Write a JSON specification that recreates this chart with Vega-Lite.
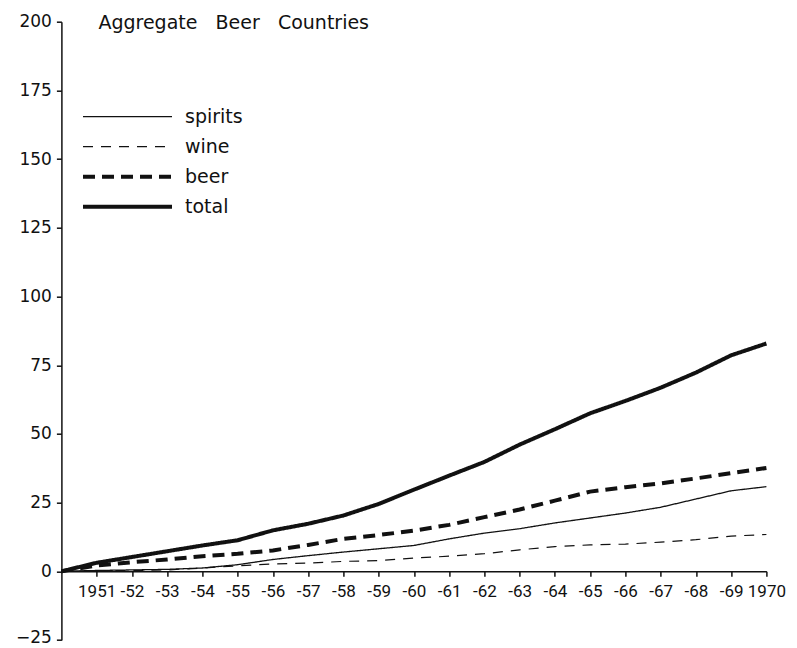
{
  "$schema": "https://vega.github.io/schema/vega-lite/v6.json",
  "width": 705,
  "height": 618.3,
  "autosize": {"type": "none"},
  "padding": {"left": 61.4, "top": 21.7, "right": 30.6, "bottom": 8},
  "background": "white",
  "title": {
    "text": "Aggregate\u00a0\u00a0\u00a0Beer\u00a0\u00a0\u00a0Countries",
    "anchor": "start",
    "frame": "group",
    "dx": 37,
    "offset": 0,
    "dy": 35,
    "baseline": "alphabetic",
    "font": "DejaVu Sans",
    "fontSize": 19,
    "fontWeight": "normal",
    "color": "#111"
  },
  "config": {
    "view": {"stroke": null}
  },
  "data": {
    "values": [
      {"year": 1950, "spirits": 0.0, "wine": 0.0, "beer": 0.0, "total": 0.0},
      {"year": 1951, "spirits": 0.3, "wine": 0.2, "beer": 2.1, "total": 3.1},
      {"year": 1952, "spirits": 0.5, "wine": 0.3, "beer": 3.3, "total": 5.2},
      {"year": 1953, "spirits": 0.7, "wine": 0.5, "beer": 4.3, "total": 7.3},
      {"year": 1954, "spirits": 1.2, "wine": 1.2, "beer": 5.5, "total": 9.4},
      {"year": 1955, "spirits": 2.4, "wine": 2.0, "beer": 6.4, "total": 11.3},
      {"year": 1956, "spirits": 4.3, "wine": 2.7, "beer": 7.6, "total": 14.9},
      {"year": 1957, "spirits": 5.7, "wine": 3.0, "beer": 9.6, "total": 17.3},
      {"year": 1958, "spirits": 7.0, "wine": 3.6, "beer": 11.8, "total": 20.3},
      {"year": 1959, "spirits": 8.2, "wine": 3.9, "beer": 13.2, "total": 24.5},
      {"year": 1960, "spirits": 9.4, "wine": 4.8, "beer": 14.8, "total": 29.7},
      {"year": 1961, "spirits": 11.8, "wine": 5.5, "beer": 16.9, "total": 34.8},
      {"year": 1962, "spirits": 13.9, "wine": 6.4, "beer": 19.7, "total": 39.8},
      {"year": 1963, "spirits": 15.5, "wine": 7.8, "beer": 22.5, "total": 46.1},
      {"year": 1964, "spirits": 17.6, "wine": 9.0, "beer": 25.7, "total": 51.7},
      {"year": 1965, "spirits": 19.4, "wine": 9.6, "beer": 29.0, "total": 57.5},
      {"year": 1966, "spirits": 21.2, "wine": 9.9, "beer": 30.6, "total": 62.0},
      {"year": 1967, "spirits": 23.3, "wine": 10.6, "beer": 32.0, "total": 66.8},
      {"year": 1968, "spirits": 26.3, "wine": 11.5, "beer": 33.8, "total": 72.3},
      {"year": 1969, "spirits": 29.3, "wine": 12.8, "beer": 35.7, "total": 78.6},
      {"year": 1970, "spirits": 30.8, "wine": 13.4, "beer": 37.6, "total": 82.9}
    ]
  },
  "transform": [
    {"fold": ["spirits", "wine", "beer", "total"], "as": ["series", "value"]}
  ],
  "mark": {"type": "line", "color": "#111", "strokeCap": "butt"},
  "encoding": {
    "x": {
      "field": "year",
      "type": "quantitative",
      "scale": {"domain": [1950, 1970], "nice": false, "zero": false},
      "axis": {
        "title": null,
        "values": [1951, 1952, 1953, 1954, 1955, 1956, 1957, 1958, 1959, 1960, 1961, 1962, 1963, 1964, 1965, 1966, 1967, 1968, 1969, 1970],
        "format": "d",
        "labelExpr": "datum.value == 1951 || datum.value == 1970 ? datum.label : '-' + slice(datum.label, 2)",
        "offset": -68.7,
        "grid": false,
        "tickSize": 5,
        "tickWidth": 1.5,
        "domainWidth": 1.5,
        "domainColor": "#111",
        "tickColor": "#111",
        "labelColor": "#111",
        "labelFont": "Roboto",
        "labelFontSize": 17,
        "labelPadding": 7,
        "labelFlush": false,
        "labelOverlap": false
      }
    },
    "y": {
      "field": "value",
      "type": "quantitative",
      "scale": {"domain": [-25, 200], "nice": false},
      "axis": {
        "title": null,
        "values": [-25, 0, 25, 50, 75, 100, 125, 150, 175, 200],
        "grid": false,
        "tickSize": 5,
        "tickWidth": 1.5,
        "domainWidth": 1.5,
        "domainColor": "#111",
        "tickColor": "#111",
        "labelColor": "#111",
        "labelFont": "DejaVu Sans",
        "labelFontSize": 17,
        "labelPadding": 5,
        "labelOffset": {"condition": {"test": "datum.value < 0", "value": -3}, "value": 0},
        "labelOverlap": false,
        "labelFlush": false
      }
    },
    "strokeDash": {
      "field": "series",
      "type": "ordinal",
      "scale": {
        "domain": ["spirits", "wine", "beer", "total"],
        "range": [[1, 0], [10, 8], [12, 7], [1, 0]]
      },
      "legend": {
        "title": null,
        "orient": "none",
        "legendX": 21.6,
        "legendY": 86,
        "padding": 0,
        "symbolType": "stroke",
        "symbolSize": 7921,
        "symbolStrokeColor": "#111",
        "clipHeight": 18,
        "rowPadding": 11,
        "labelOffset": 13,
        "labelFont": "DejaVu Sans",
        "labelFontSize": 19,
        "labelColor": "#111",
        "encode": {
          "symbols": {
            "update": {
              "x": {"value": 44.5},
              "size": {"value": 7921},
              "strokeWidth": {"signal": "datum.value == 'beer' || datum.value == 'total' ? 4 : 1.3"}
            }
          },
          "labels": {
            "update": {
              "x": {"value": 102}
            }
          }
        }
      }
    },
    "size": {
      "field": "series",
      "type": "ordinal",
      "scale": {
        "type": "ordinal",
        "domain": ["total", "beer", "wine", "spirits"],
        "range": [4, 4, 1.2, 1.3]
      },
      "legend": null
    }
  }
}
